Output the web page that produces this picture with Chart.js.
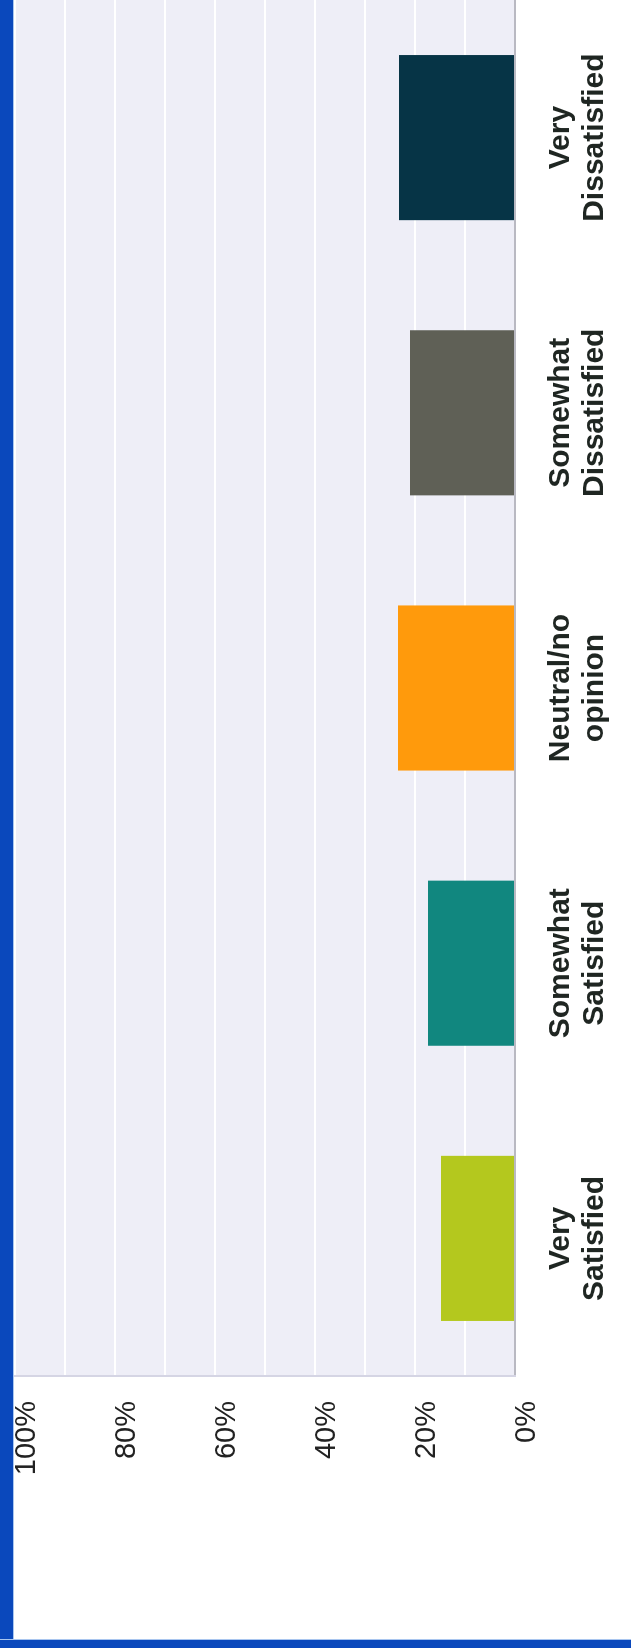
<!DOCTYPE html>
<html>
<head>
<meta charset="utf-8">
<script src="https://cdn.jsdelivr.net/npm/chart.js@4.4.1/dist/chart.umd.min.js"></script>
<style>
  html, body { margin: 0; padding: 0; background: #fff; }
  #page { position: relative; width: 631px; height: 1648px; overflow: hidden; background: #fff; }
  /* the chart is drawn upright, then turned a quarter turn to the left like the scan */
  #turn {
    position: absolute; left: 0; top: 0; width: 1651px; height: 631px;
    transform-origin: 0 0; transform: translate(0px, 1651px) rotate(-90deg);
  }
  #turn canvas { display: block; }
  #edgeLeft { position: absolute; left: 0; top: 0; width: 13px; height: 1648px; background: #0a48bc; border-right: 1px solid #a9c6ef; }
  #edgeBottom { position: absolute; left: 0; top: 1639px; width: 631px; height: 9px; background: #0a48bc; border-top: 1px solid #a9c6ef; }
</style>
</head>
<body>
<div id="page">
  <div id="turn"><canvas id="satisfaction-chart" width="1651" height="631"></canvas></div>
  <div id="edgeLeft"></div>
  <div id="edgeBottom"></div>
</div>
<script>
// Survey answers (percent of respondents)
const categories = ["Very Satisfied", "Somewhat Satisfied", "Neutral/no opinion", "Somewhat Dissatisfied", "Very Dissatisfied"];
const percentages = [14.8, 17.4, 23.4, 21, 23.2];
const barColors = ["#b4c81e", "#11877f", "#ff9a0c", "#5f6056", "#063446"];
const tickValues = [0, 20, 40, 60, 80, 100];

const fontFamily = "'Liberation Sans', Arial, Helvetica, sans-serif";

// paint the lavender plot area before anything else
const plotBackground = {
  id: "plotBackground",
  beforeDraw(chart) {
    const { ctx, chartArea } = chart;
    ctx.save();
    ctx.fillStyle = "#eeeef7";
    ctx.fillRect(chartArea.left, chartArea.top, chartArea.right - chartArea.left, chartArea.bottom - chartArea.top);
    ctx.restore();
  },
};

const ctx = document.getElementById("satisfaction-chart").getContext("2d");
new Chart(ctx, {
  type: "bar",
  data: {
    labels: categories,
    datasets: [
      {
        label: "Satisfaction",
        data: percentages,
        backgroundColor: barColors,
        borderWidth: 0,
        categoryPercentage: 0.6,
        barPercentage: 1,
      },
    ],
  },
  options: {
    responsive: false,
    animation: false,
    layout: { padding: { top: 15, right: 0, bottom: 0, left: 0 } },
    plugins: {
      legend: { display: false },
      tooltip: { enabled: false },
    },
    scales: {
      x: {
        grid: { display: false, drawTicks: false },
        border: { display: true, color: "#b9b9c2", width: 2 },
        ticks: {
          color: "#1f2622",
          padding: 29,
          maxRotation: 0,
          autoSkip: false,
          font: { family: fontFamily, size: 30, weight: "bold", lineHeight: 1.13 },
          callback: function (value) {
            return categories[value].split(" ");
          },
        },
        afterFit: (scale) => { scale.height = 116; },
      },
      y: {
        min: 0,
        max: 100,
        grid: { color: "#ffffff", lineWidth: 2, drawTicks: false },
        border: { display: true, color: "#d5d5e4", width: 2 },
        ticks: {
          stepSize: 10,
          color: "#222222",
          padding: 25,
          labelOffset: 12,
          font: { family: fontFamily, size: 29, lineHeight: 1 },
          callback: function (value) {
            return tickValues.includes(value) ? value + "%" : "";
          },
        },
        // keep the plot top where the scan has it (label padding would push it down)
        afterFit: (scale) => {
          scale.width = 275;
          scale.paddingTop = 0;
          scale.paddingBottom = 0;
        },
      },
    },
  },
  plugins: [plotBackground],
});
</script>
</body>
</html>
